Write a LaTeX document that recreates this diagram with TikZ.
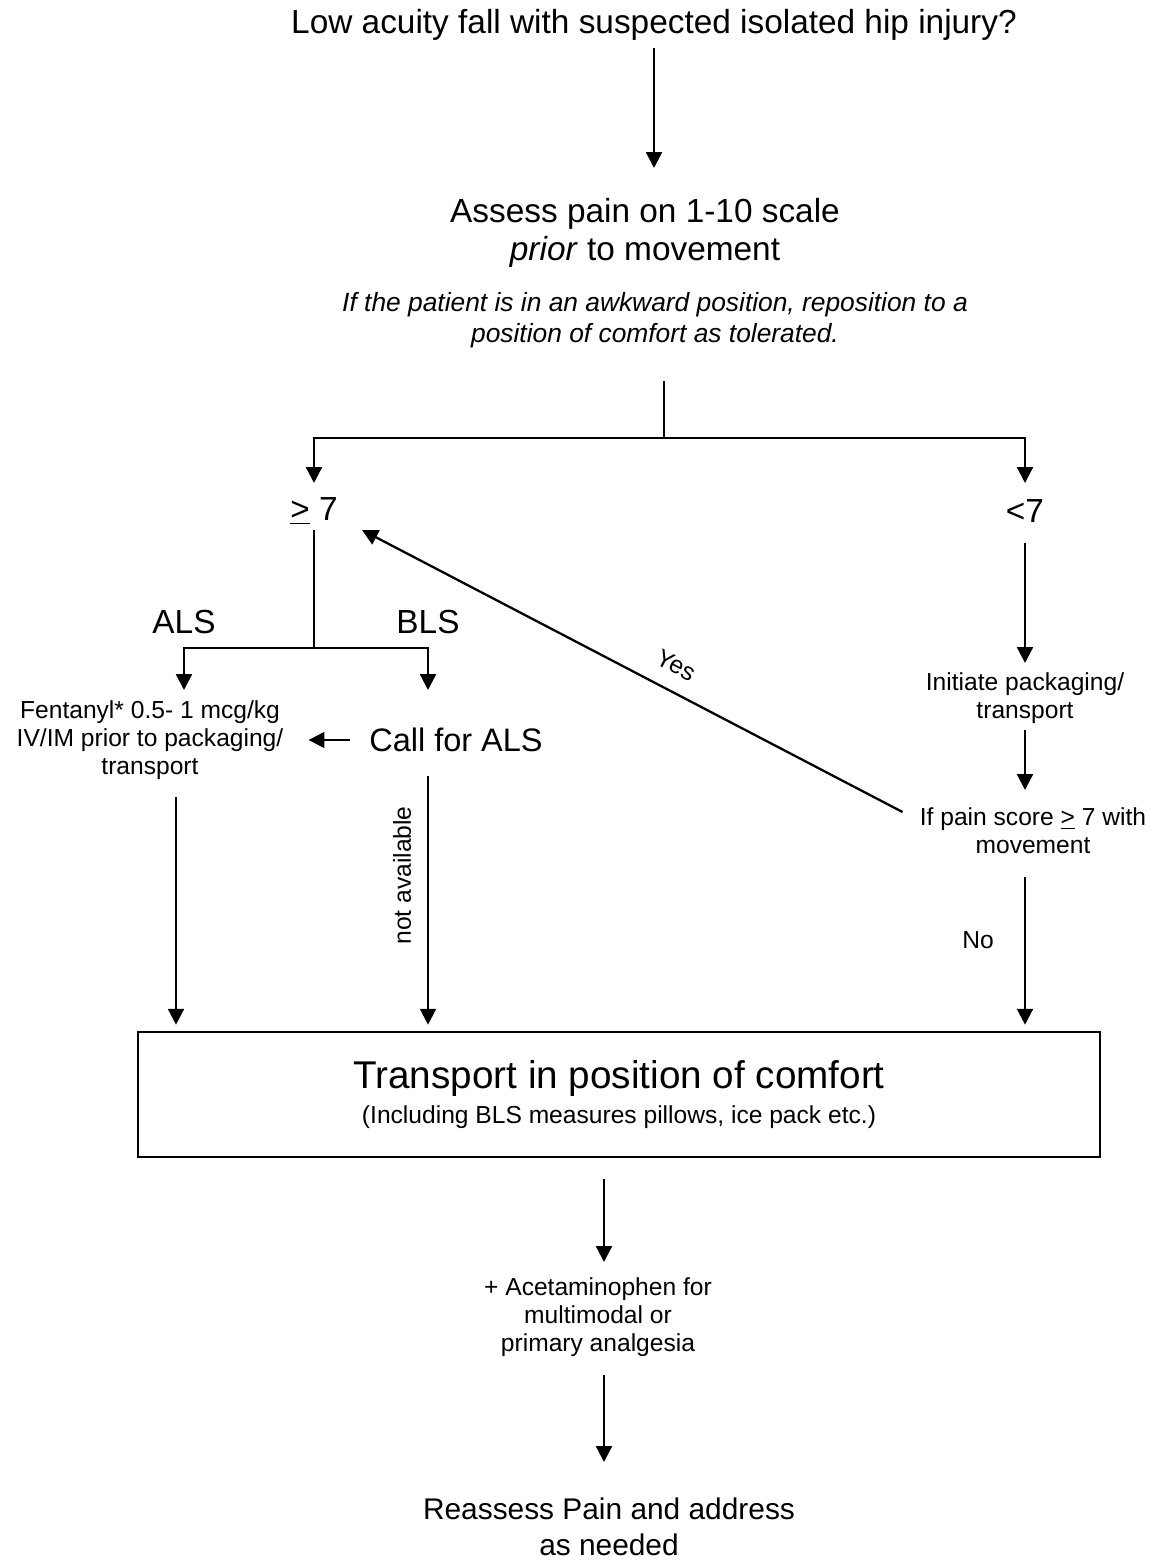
\documentclass[tikz,border=0pt]{standalone}
\usepackage{fontspec}
\setmainfont{Liberation Sans}
\usetikzlibrary{arrows.meta,calc}

\begin{document}
\begin{tikzpicture}[x=0.02cm, y=-0.02cm,
  every node/.style={inner sep=0pt, align=center},
  arr/.style={-{Triangle[width=9pt,length=9pt]}, line width=1.3pt},
  ln/.style={line width=1.3pt},
  big/.style={font=\fontsize{19}{22}\selectfont},
  callfont/.style={font=\fontsize{18.5}{21}\selectfont},
  small/.style={font=\fontsize{14}{16}\selectfont},
  note/.style={font=\fontsize{15}{17.6}\selectfont\itshape}]
  \useasboundingbox (0,0) rectangle (1156,1561);

  % top part
  \node[big] (title) at (654,25) {Low acuity fall with suspected isolated hip injury?};
  \node[big] (assess) at (645,233) {Assess pain on 1-10 scale\\\textit{prior} to movement};
  \node[note] (note) at (655,320) {If the patient is in an awkward position, reposition to a\\position of comfort as tolerated.};
  \coordinate (split) at (664,438);
  \node[big] (ge) at (314,511) {\underline{>} 7};
  \node[big] (lt) at (1025,511) {<7};

  % left branch
  \coordinate (fork) at (314,648);
  \node[big] (als) at (184,622) {ALS};
  \node[big] (bls) at (428,622) {BLS};
  \node[small] (fent) at (150,740) {Fentanyl* 0.5- 1 mcg/kg\\IV/IM prior to packaging/\\transport};
  \node[callfont] (call) at (456,740) {Call for ALS};

  % right branch
  \node[small] (init) at (1025,698) {Initiate packaging/\\transport};
  \node[small] (ifpain) at (1033,831) {If pain score \underline{>} 7 with\\movement};

  % bottom part
  \node[draw, line width=1.5pt, minimum width=19.24cm, minimum height=2.5cm, font=\fontsize{14}{19.8}\selectfont] (box) at (619,1094.5)
    {{\fontsize{22}{19.8}\selectfont Transport in position of comfort}\\(Including BLS measures pillows, ice pack etc.)};
  \node[small] (acet) at (598,1317) {+ Acetaminophen for\\multimodal or\\primary analgesia};
  \node[font=\fontsize{17}{20.4}\selectfont] (reass) at (609,1527) {Reassess Pain and address\\as needed};

  \draw[arr] ($(title)+(0,23)$) -- ($(title |- assess)+(0,-65)$);
  \draw[ln] ($(note)+(9,61)$) -- (split);
  \draw[arr] (split) -| ($(ge)+(0,-28)$);
  \draw[arr] (split) -| ($(lt)+(0,-28)$);
  \draw[ln] ($(ge)+(0,19)$) -- (fork);
  \draw[arr] (fork) -| ($(als)+(0,68)$);
  \draw[arr] (fork) -| ($(bls)+(0,68)$);
  \draw[arr] ($(call.west)+(-19,0)$) -- ($(fent.east)+(25,0)$);
  \draw[arr] ($(bls |- call)+(0,36)$) -- ($(bls |- box.north)+(0,-6)$)
    node[pos=0.4, xshift=-0.52cm, rotate=90, small] {not available};
  \draw[arr] ($(fent)+(26,57)$) -- ($(fent |- box.north)+(26,-6)$);
  \draw[arr] ($(lt)+(0,32)$) -- ($(init)+(0,-35)$);
  \draw[arr] ($(init)+(0,32)$) -- ($(init |- ifpain)+(0,-41)$);
  \draw[arr] ($(ifpain.west)+(-17,-19)$) -- ($(ge)+(48,19)$)
    node[pos=0.44, sloped, above=0.32cm, small] {Yes};
  \draw[arr] ($(ifpain)+(-8,46)$) -- ($(ifpain |- box.north)+(-8,-6)$)
    node[pos=0.43, left=0.6cm, small] {No};
  \draw[arr] ($(box.south)+(-15,21)$) -- ($(acet)+(6,-55)$);
  \draw[arr] ($(acet)+(6,58)$) -- ($(reass)+(-5,-65)$);
\end{tikzpicture}
\end{document}
